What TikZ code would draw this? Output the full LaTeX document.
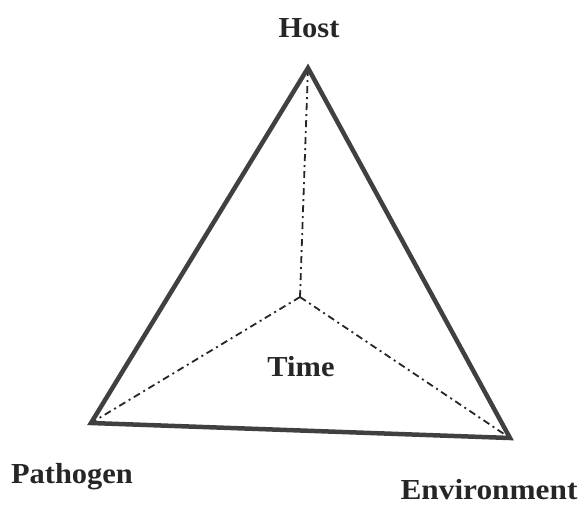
\documentclass[tikz,border=0pt]{standalone}
\usepackage{fontspec}
\setmainfont{Liberation Serif}
\begin{document}
\begin{tikzpicture}[x=1pt,y=-1pt,
  edge/.style={draw=black!75, line width=4.5pt, line join=miter},
  spoke/.style={draw=black!85, line width=1.8pt, dash pattern=on 7pt off 4pt on 2pt off 4pt},
  lbl/.style={font=\bfseries\fontsize{29}{32}\selectfont, text=black!85, inner sep=0pt}]
\useasboundingbox (0,0) rectangle (579,508);
\coordinate (H) at (308,68);
\coordinate (P) at (91,423);
\coordinate (E) at (510,438);
\coordinate (T) at (300,297);
\draw[spoke] (T) -- (H);
\draw[spoke] (T) -- (P);
\draw[spoke] (T) -- (E);
\draw[edge] (H) -- (P) -- (E) -- cycle;
\node[lbl, xscale=1.05] (host) at (309,28) {Host};
\node[lbl, xscale=1.05] (time) at (301,367) {Time};
\node[lbl, xscale=1.05] (path) at (72,477) {Pathogen};
\node[lbl, xscale=1.08] (env) at (489,490) {Environment};
\end{tikzpicture}
\end{document}
